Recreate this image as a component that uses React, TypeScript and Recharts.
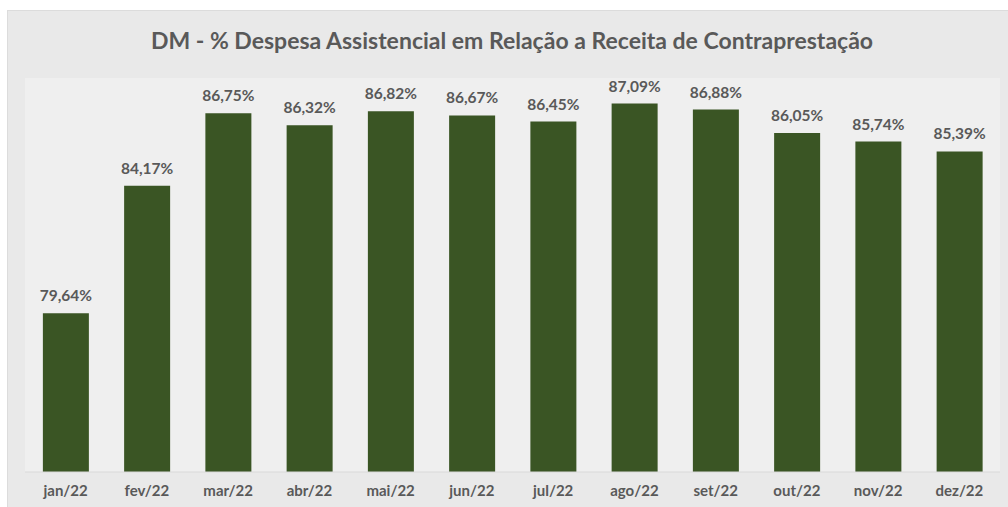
import { BarChart, Bar, XAxis, YAxis, CartesianGrid, LabelList } from 'recharts'

const months = ['jan/22', 'fev/22', 'mar/22', 'abr/22', 'mai/22', 'jun/22', 'jul/22', 'ago/22', 'set/22', 'out/22', 'nov/22', 'dez/22']
const despesaPct = [79.64, 84.17, 86.75, 86.32, 86.82, 86.67, 86.45, 87.09, 86.88, 86.05, 85.74, 85.39]

const data = months.map((m, i) => ({ mes: m, valor: despesaPct[i] }))

const FONT = 'Lato, "Open Sans", sans-serif'
const TEXT = '#595959'

const fmtPct = (v: any) => `${Number(v).toFixed(2).replace('.', ',')}%`

export default function App() {
  return (
    <div style={{ position: 'absolute', left: 0, top: 0, width: 1008, height: 507, background: '#fff', overflow: 'hidden' }}>
      <div style={{ position: 'absolute', left: 7, top: 10, width: 1001, height: 497, background: '#e9e9e9', borderTop: '1px solid #dcdcdc', borderLeft: '1px solid #dcdcdc' }} />
      <div
        style={{
          position: 'absolute',
          left: 0,
          top: 26,
          width: 1024,
          textAlign: 'center',
          fontFamily: FONT,
          fontWeight: 700,
          fontSize: 23,
          color: TEXT,
          lineHeight: '28px',
        }}
      >
        DM - % Despesa Assistencial em Relação a Receita de Contraprestação
      </div>
      <div style={{ position: 'absolute', left: 0, top: 0 }}>
        <BarChart
          width={1008}
          height={507}
          data={data}
          margin={{ top: 78, right: 8, bottom: 5, left: 25 }}
          barCategoryGap="22%"
        >
          <CartesianGrid fill="#efefef" stroke="none" horizontal={false} vertical={false} />
          <YAxis hide domain={[74, 88]} allowDataOverflow />
          <XAxis
            dataKey="mes"
            height={30}
            axisLine={{ stroke: '#d9d9d9' }}
            tickLine={false}
            tick={{ fill: TEXT, fontSize: 15, fontWeight: 700, fontFamily: FONT }}
            tickMargin={7}
            interval={0}
          />
          <Bar dataKey="valor" fill="#3a5524" isAnimationActive={false}>
            <LabelList
              dataKey="valor"
              position="top"
              offset={12}
              formatter={fmtPct}
              style={{ fill: TEXT, fontSize: 15.5, fontWeight: 700, fontFamily: FONT }}
            />
          </Bar>
        </BarChart>
      </div>
    </div>
  )
}
